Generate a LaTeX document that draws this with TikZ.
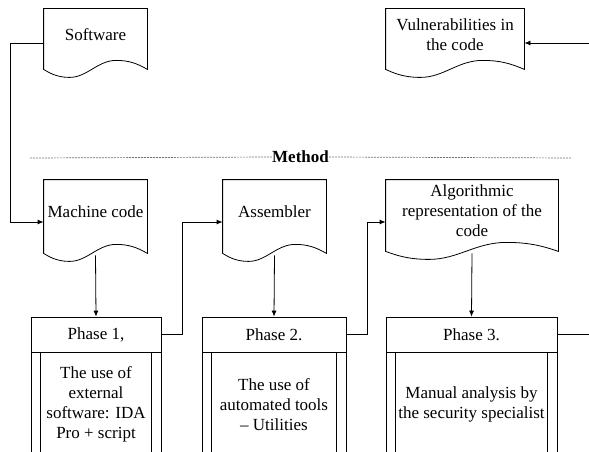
\documentclass[tikz,border=0pt]{standalone}
\usepackage{fontspec}
\setmainfont{Liberation Serif}
\usetikzlibrary{calc,positioning,arrows.meta}

\tikzset{
  docbox/.style 2 args={minimum width=#1, minimum height=#2, inner sep=1pt, align=center},
  phasehead/.style={draw, minimum width=#1, minimum height=35pt, inner sep=0pt},
  phasebody/.style={draw, minimum width=#1, minimum height=104pt, inner sep=0pt, align=center},
  sepline/.style={black!55, line width=0.7pt, dash pattern=on 2pt off 1pt},
}

% outline of a document symbol round a docbox node, wavy bottom edge
\newcommand{\docoutline}[1]{%
  \foreach \f/\d/\k in {1/-9pt/a, 0.9/-3pt/b, 0.82/0pt/c, 0.7/0pt/d, 0.52/0pt/e,
                        0.42/-17pt/f, 0.25/-17pt/g, 0.12/-17pt/h, 0.05/-12pt/i, 0/-9pt/j}
    \coordinate (#1-\k) at ([yshift=\d]$(#1.south west)!\f!(#1.south east)$);
  \draw (#1.north west) -- (#1.north east) -- (#1-a)
    .. controls (#1-b) and (#1-c) .. (#1-d)
    .. controls (#1-e) and (#1-f) .. (#1-g)
    .. controls (#1-h) and (#1-i) .. (#1-j) -- cycle;}

\begin{document}
\begin{tikzpicture}[x=1pt, y=-1pt, line width=0.8pt, >={Latex[length=6pt,width=5pt]},
  font=\fontsize{17}{20}\selectfont]

  \useasboundingbox (0,0) rectangle (589,452);
  \clip (0,0) rectangle (589,452);

  \node[docbox={103pt}{51pt}] (soft) at (95.5,34.5) {Software};
  \node[docbox={138pt}{51pt}] (vuln) at (455,34.5) {Vulnerabilities in\\the code};
  \node[docbox={103pt}{64pt}] (mach) at (95.5,212) {Machine code};
  \node[docbox={103pt}{64pt}] (asm) at (274.5,212) {Assembler};
  \node[docbox={172pt}{62pt}] (algo) at (472,211) {Algorithmic\\representation of the\\code};
  \foreach \doc in {soft,vuln,mach,asm,algo} {\docoutline{\doc}}

  \coordinate (mleft) at (30,158);
  \coordinate (mright) at (572,158);
  \node[font=\fontsize{17}{20}\selectfont\bfseries, inner sep=0pt] (method) at (300.5,157) {Method};
  \draw[sepline] (mleft) -- (method.west);
  \draw[sepline] (method.east) -- (mright);

  \node[phasehead=130pt] (p1h) at (96,334.5) {Phase 1,};
  \node[phasehead=144pt] (p2h) at (274,334.5) {Phase 2.};
  \node[phasehead=171pt] (p3h) at (471.5,334.5) {Phase 3.};
  \node[phasebody=130pt, below=0pt of p1h] (p1b) {The use of\\external\\software: IDA\\Pro + script};
  \node[phasebody=144pt, below=0pt of p2h] (p2b) {The use of\\automated tools\\– Utilities};
  \node[phasebody=171pt, below=0pt of p3h] (p3b) {Manual analysis by\\the security specialist};
  \foreach \p in {p1b,p2b,p3b} {
    \draw ([xshift=10pt]\p.north west) -- ([xshift=10pt]\p.south west);
    \draw ([xshift=-10pt]\p.north east) -- ([xshift=-10pt]\p.south east);
  }

  \coordinate (vin) at (589,43);
  \coordinate (pout) at (589,334.5);

  \draw[->] ([yshift=-8.5pt]soft.west) -- ++(-33,0) |- ([yshift=-10pt]mach.west);
  \draw[->] (vin) -- (vuln.east |- vin);
  \draw[->] ([yshift=-11pt]mach.south) -- (p1h.north);
  \draw[->] (p1h.east) -- ++(21,0) |- ([yshift=-10pt]asm.west);
  \draw[->] ([yshift=-11pt]asm.south) -- (p2h.north);
  \draw[->] (p2h.east) -- ++(21,0) |- ([yshift=-11pt]algo.west);
  \draw[->] ([yshift=-11pt]algo.south) -- (p3h.north);
  \draw (p3h.east) -- (pout);

\end{tikzpicture}
\end{document}
